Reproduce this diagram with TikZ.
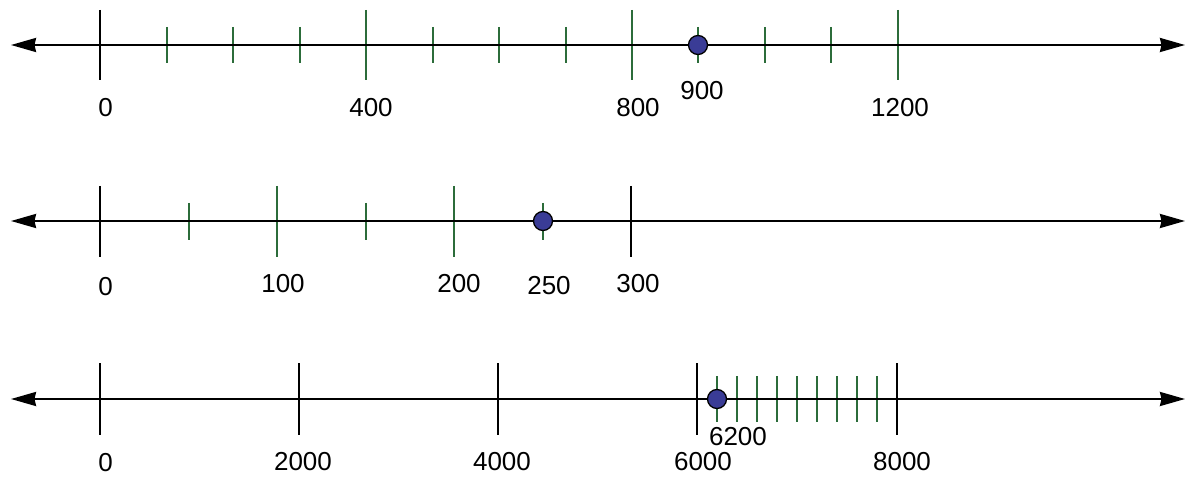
\documentclass[tikz,border=0pt]{standalone}
\usepackage{fontspec}
\setmainfont{Liberation Sans}
\usetikzlibrary{arrows.meta}

\definecolor{tickgreen}{RGB}{44,108,58}
\definecolor{dotblue}{RGB}{58,60,150}

\begin{document}
\begin{tikzpicture}[x=1pt, y=-1pt, line cap=butt,
  axisline/.style={line width=2.2pt, {Stealth[length=25pt,width=14pt,inset=1.5pt]}-{Stealth[length=25pt,width=14pt,inset=1.5pt]}},
  majortick/.style={line width=2.2pt},
  greentick/.style={line width=2pt, draw=tickgreen},
  numlbl/.style={anchor=center, inner sep=0pt, font=\fontsize{26}{31}\selectfont},
  dot/.style={circle, draw, fill=dotblue, line width=1.3pt, minimum size=19pt, inner sep=0pt}]

  %% ════ 第一条数轴：0 -- 1200 ════
  \draw[majortick] (100,10) -- (100,80);
  \draw[greentick] (366,10) -- (366,80);
  \draw[greentick] (632,10) -- (632,80);
  \draw[greentick] (898,10) -- (898,80);
  \draw[greentick] (167,27) -- (167,63);
  \draw[greentick] (233,27) -- (233,63);
  \draw[greentick] (300,27) -- (300,63);
  \draw[greentick] (433,27) -- (433,63);
  \draw[greentick] (499,27) -- (499,63);
  \draw[greentick] (566,27) -- (566,63);
  \draw[greentick] (698,27) -- (698,63);
  \draw[greentick] (765,27) -- (765,63);
  \draw[greentick] (831,27) -- (831,63);
  \coordinate (axA-w) at (11,45);
  \coordinate (axA-e) at (1185,45);
  \draw[axisline] (axA-w) -- (axA-e);
  \node[dot] (dotA) at (698,45) {};
  \node[numlbl] (a0)    at (105.5,108) {0};
  \node[numlbl] (a400)  at (371.0,108) {400};
  \node[numlbl] (a800)  at (638.0,108) {800};
  \node[numlbl] (a900)  at (702.0,91)  {900};
  \node[numlbl] (a1200) at (900.0,108) {1200};

  %% ════ 第二条数轴：0 -- 300 ════
  \draw[majortick] (100,186) -- (100,257);
  \draw[majortick] (631,186) -- (631,257);
  \draw[greentick] (277,186) -- (277,257);
  \draw[greentick] (454,186) -- (454,257);
  \draw[greentick] (189,203) -- (189,240);
  \draw[greentick] (366,203) -- (366,240);
  \draw[greentick] (543,203) -- (543,240);
  \coordinate (axB-w) at (11,221);
  \coordinate (axB-e) at (1185,221);
  \draw[axisline] (axB-w) -- (axB-e);
  \node[dot] (dotB) at (543,221) {};
  \node[numlbl] (b0)   at (105.5,287) {0};
  \node[numlbl] (b100) at (283.0,284) {100};
  \node[numlbl] (b200) at (459.0,284) {200};
  \node[numlbl] (b250) at (549.0,286) {250};
  \node[numlbl] (b300) at (638.0,284) {300};

  %% ════ 第三条数轴：0 -- 8000 ════
  \draw[majortick] (100,363) -- (100,435);
  \draw[majortick] (299,363) -- (299,435);
  \draw[majortick] (498,363) -- (498,435);
  \draw[majortick] (697,363) -- (697,435);
  \draw[majortick] (897,363) -- (897,435);
  \draw[greentick] (717,376) -- (717,422);
  \draw[greentick] (737,376) -- (737,422);
  \draw[greentick] (757,376) -- (757,422);
  \draw[greentick] (777,376) -- (777,422);
  \draw[greentick] (797,376) -- (797,422);
  \draw[greentick] (817,376) -- (817,422);
  \draw[greentick] (837,376) -- (837,422);
  \draw[greentick] (857,376) -- (857,422);
  \draw[greentick] (877,376) -- (877,422);
  \coordinate (axC-w) at (11,399);
  \coordinate (axC-e) at (1185,399);
  \draw[axisline] (axC-w) -- (axC-e);
  \node[dot] (dotC) at (717,399) {};
  \node[numlbl] (c0)    at (105.5,463) {0};
  \node[numlbl] (c2000) at (303.0,462) {2000};
  \node[numlbl] (c4000) at (502.0,462) {4000};
  \node[numlbl] (c6000) at (703.0,462) {6000};
  \node[numlbl] (c6200) at (738.0,437) {6200};
  \node[numlbl] (c8000) at (902.0,462) {8000};

  % 固定画布大小
  \pgfresetboundingbox
  \path[use as bounding box] (0,0) rectangle (1192,489);
\end{tikzpicture}
\end{document}
